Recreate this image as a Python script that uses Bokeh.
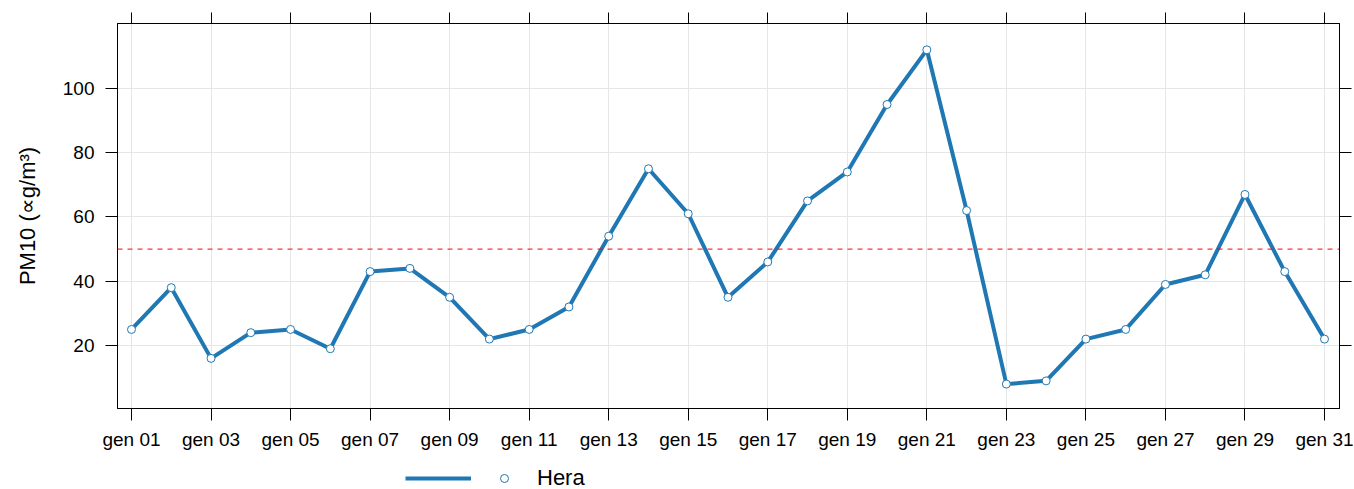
from bokeh.plotting import figure
from bokeh.layouts import column
from bokeh.models import (LinearAxis, FixedTicker, Span, Legend, LegendItem,
                          Range1d, ColumnDataSource)
from bokeh.embed import file_html
from bokeh.resources import INLINE
from bokeh.core.properties import value

# ---- data ----
days = list(range(1, 32))
pm10 = [25, 38, 16, 24, 25, 19, 43, 44, 35, 22, 25, 32, 54, 75, 61, 35,
        46, 65, 74, 95, 112, 62, 8, 9, 22, 25, 39, 42, 67, 43, 22]
tick_days = [1, 3, 5, 7, 9, 11, 13, 15, 17, 19, 21, 23, 25, 27, 29, 31]
tick_labels = ["gen 01", "gen 03", "gen 05", "gen 07", "gen 09", "gen 11",
               "gen 13", "gen 15", "gen 17", "gen 19", "gen 21", "gen 23",
               "gen 25", "gen 27", "gen 29", "gen 31"]
y_ticks = [20, 40, 60, 80, 100]
limit_value = 50
series_name = "Hera"
y_label = "PM10 (\u221dg/m\u00b3)"

FONT = "Liberation Sans"
BLUE = "#1f78b4"

src = ColumnDataSource(dict(day=days, pm10=pm10))

p = figure(frame_width=1222, frame_height=385,
           x_range=Range1d(0.648, 31.377), y_range=Range1d(0.4, 120.2),
           output_backend="svg", toolbar_location=None,
           min_border_left=117, min_border_right=15,
           min_border_top=23, min_border_bottom=47,
           background_fill_color="white", border_fill_color="white",
           outline_line_color="black", outline_line_width=1)

# grid
p.xgrid.ticker = FixedTicker(ticks=tick_days)
p.ygrid.ticker = FixedTicker(ticks=y_ticks)
for g in (p.xgrid[0], p.ygrid[0]):
    g.grid_line_color = "#e6e6e6"
    g.grid_line_width = 1

def style_axis(ax, tick_out, labels=True):
    ax.axis_line_color = "black"
    ax.axis_line_width = 1
    ax.major_tick_line_color = "black"
    ax.major_tick_line_width = 1
    ax.major_tick_out = tick_out
    ax.major_tick_in = 0
    ax.minor_tick_line_color = None
    ax.major_label_text_font = FONT
    ax.major_label_text_color = "black"
    if labels:
        ax.major_label_text_font_size = "19px"
    else:
        ax.major_label_text_font_size = "0px"
        ax.major_label_standoff = 0

# bottom x axis
xa = p.xaxis[0]
xa.ticker = FixedTicker(ticks=tick_days)
xa.major_label_overrides = {d: l for d, l in zip(tick_days, tick_labels)}
style_axis(xa, 12)
xa.major_label_standoff = 8

# left y axis
ya = p.yaxis[0]
ya.ticker = FixedTicker(ticks=y_ticks)
style_axis(ya, 12)
ya.major_label_standoff = 11
ya.axis_label = y_label
ya.axis_label_text_font = FONT
ya.axis_label_text_font_style = "normal"
ya.axis_label_text_font_size = "22px"
ya.axis_label_text_color = "black"
ya.axis_label_standoff = 20

# top axis (ticks only)
top = LinearAxis(ticker=FixedTicker(ticks=tick_days))
top.major_label_overrides = {d: "" for d in tick_days}
style_axis(top, 11, labels=False)
p.add_layout(top, "above")

# right axis (ticks only)
right = LinearAxis(ticker=FixedTicker(ticks=y_ticks))
right.major_label_overrides = {t: "" for t in y_ticks}
style_axis(right, 12, labels=False)
p.add_layout(right, "right")

# limit line
p.add_layout(Span(location=limit_value, dimension="width", line_color="red",
                  line_width=1, line_dash="5 5"))

# series
p.line("day", "pm10", source=src, line_color=BLUE, line_width=4)
p.scatter("day", "pm10", source=src, marker="circle", size=8,
          fill_color="white", line_color=BLUE, line_width=1)

# ---- legend strip: key renderers share the series source but sit outside
# the strip's visible ranges, so only their legend glyphs show ----
lg = figure(width=1354, height=34, output_backend="svg", toolbar_location=None,
            x_axis_type=None, y_axis_type=None,
            x_range=Range1d(-100, -99), y_range=Range1d(-100, -99),
            min_border_left=0, min_border_right=0,
            min_border_top=0, min_border_bottom=0,
            outline_line_color=None, background_fill_color="white",
            border_fill_color="white")
lg.grid.visible = False
key_line = lg.line("day", "pm10", source=src, line_color=BLUE, line_width=4)
key_pt = lg.scatter("day", "pm10", source=src, marker="circle", size=8,
                    fill_color="white", line_color=BLUE, line_width=1)

legend = Legend(items=[LegendItem(label=value(""), renderers=[key_line]),
                       LegendItem(label=value(series_name), renderers=[key_pt])],
                orientation="horizontal", location=(288, -2),
                glyph_width=66, glyph_height=20, label_standoff=0, spacing=0,
                label_width=0, padding=0, margin=0, border_line_color=None,
                background_fill_alpha=0,
                label_text_font=FONT, label_text_font_size="22px",
                label_text_color="black")
lg.add_layout(legend, "center")

layout = column(p, lg, spacing=0)
open("out.html", "w").write(file_html(layout, INLINE))
